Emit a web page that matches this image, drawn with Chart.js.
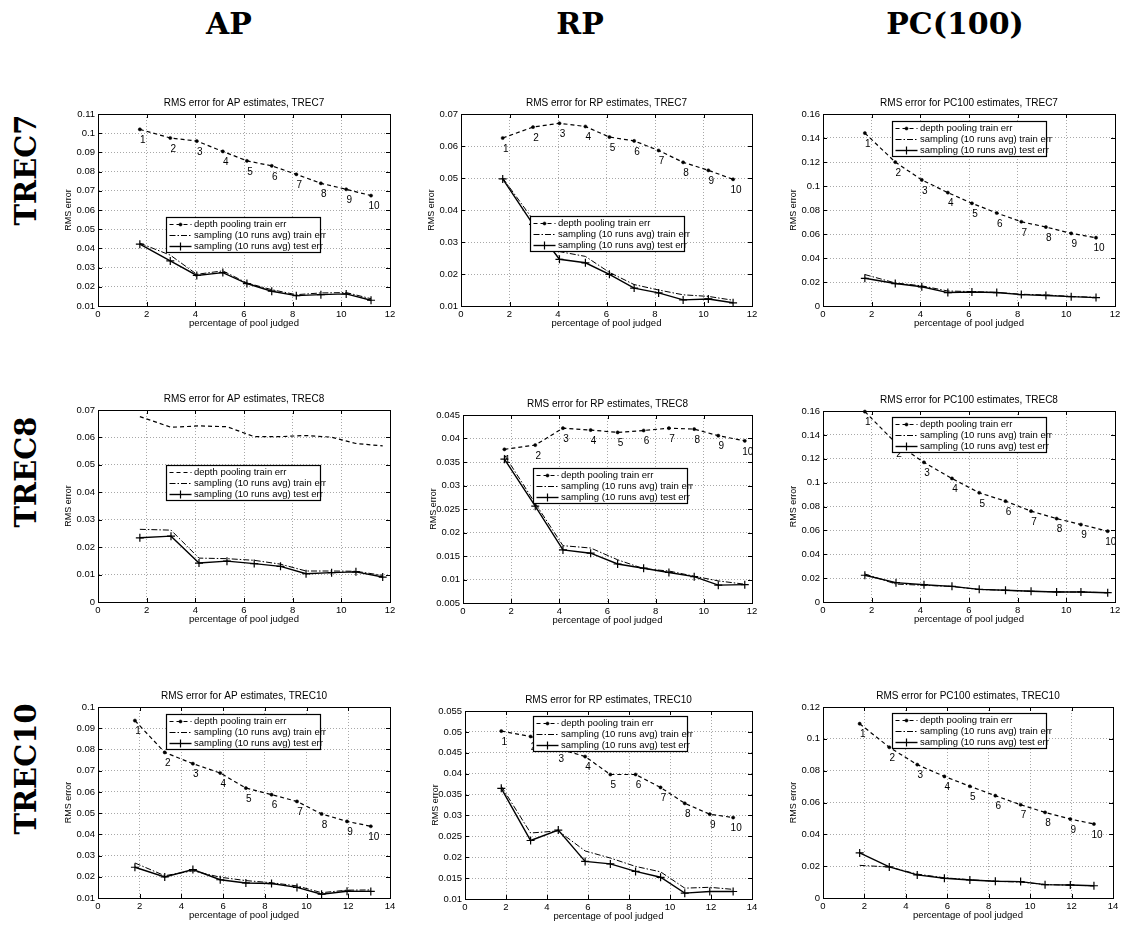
<!DOCTYPE html>
<html>
<head>
<meta charset="utf-8">
<script src="https://cdn.jsdelivr.net/npm/chart.js@4.4.1/dist/chart.umd.min.js"></script>
<style>
  body { margin: 0; background: #fff; }
  #page { position: relative; width: 1126px; height: 925px; overflow: hidden; background: #fff; }
  #page canvas { position: absolute; }
  .head { position: absolute; font: bold 30px "DejaVu Serif", serif; line-height: 30px; transform: translateX(-50%); white-space: nowrap; color: #000; }
  .side { position: absolute; font: bold 29px "DejaVu Serif", serif; line-height: 30px; white-space: nowrap; color: #000;
          transform: translate(-50%, -50%) rotate(-90deg); }
</style>
</head>
<body>
<div id="page">
  <div class="head" style="left:229px; top:9px">AP</div>
  <div class="head" style="left:580px; top:9px">RP</div>
  <div class="head" style="left:955px; top:9px">PC(100)</div>
  <div class="side" style="left:26px; top:170px">TREC7</div>
  <div class="side" style="left:26px; top:472px">TREC8</div>
  <div class="side" style="left:26px; top:769px">TREC10</div>
</div>
<script>
// ---- data ----
const seriesNames = ['depth pooling train err', 'sampling (10 runs avg) train err', 'sampling (10 runs avg) test err'];

const xTrec7  = [1.72, 2.97, 4.06, 5.13, 6.12, 7.14, 8.15, 9.16, 10.2, 11.22];
const xTrec8  = [1.72, 3.0, 4.15, 5.3, 6.42, 7.5, 8.55, 9.6, 10.6, 11.7];
const xTrec10 = [1.77, 3.2, 4.55, 5.86, 7.09, 8.32, 9.54, 10.72, 11.94, 13.08];

const apTrec7Depth = [0.1020, 0.0975, 0.0959, 0.0905, 0.0856, 0.0830, 0.0786, 0.0739, 0.0708, 0.0675];
const apTrec7Train = [0.0427, 0.0365, 0.0265, 0.0283, 0.0220, 0.0185, 0.0159, 0.0168, 0.0170, 0.0138];
const apTrec7Test  = [0.0422, 0.0335, 0.0259, 0.0274, 0.0217, 0.0177, 0.0154, 0.0159, 0.0163, 0.0130];

const rpTrec7Depth = [0.0625, 0.0659, 0.0671, 0.0661, 0.0628, 0.0616, 0.0586, 0.0549, 0.0524, 0.0496];
const rpTrec7Train = [0.0500, 0.0370, 0.0270, 0.0255, 0.0205, 0.0167, 0.0150, 0.0135, 0.0130, 0.0118];
const rpTrec7Test  = [0.0497, 0.0355, 0.0246, 0.0235, 0.0199, 0.0156, 0.0141, 0.0119, 0.0122, 0.0110];

const pcTrec7Depth = [0.1441, 0.1199, 0.1051, 0.0945, 0.0856, 0.0775, 0.0702, 0.0658, 0.0605, 0.0569];
const pcTrec7Train = [0.0262, 0.0192, 0.0168, 0.0125, 0.0120, 0.0113, 0.0098, 0.0092, 0.0080, 0.0072];
const pcTrec7Test  = [0.0231, 0.0187, 0.0160, 0.0112, 0.0117, 0.0112, 0.0095, 0.0088, 0.0078, 0.0070];

const apTrec8Depth = [0.0676, 0.0637, 0.0642, 0.0639, 0.0603, 0.0603, 0.0607, 0.0601, 0.0578, 0.0569];
const apTrec8Train = [0.0265, 0.0262, 0.0160, 0.0158, 0.0152, 0.0138, 0.0113, 0.0113, 0.0112, 0.0097];
const apTrec8Test  = [0.0234, 0.0240, 0.0142, 0.0149, 0.0140, 0.0130, 0.0103, 0.0107, 0.0110, 0.0091];

const rpTrec8Depth = [0.0377, 0.0386, 0.0422, 0.0418, 0.0413, 0.0417, 0.0422, 0.0420, 0.0406, 0.0395];
const rpTrec8Train = [0.0365, 0.0262, 0.0172, 0.0167, 0.0142, 0.0123, 0.0118, 0.0107, 0.0097, 0.0090];
const rpTrec8Test  = [0.0356, 0.0256, 0.0163, 0.0156, 0.0133, 0.0124, 0.0115, 0.0106, 0.0088, 0.0089];

const pcTrec8Depth = [0.1595, 0.1330, 0.1170, 0.1035, 0.0915, 0.0845, 0.0761, 0.0699, 0.0649, 0.0593];
const pcTrec8Train = [0.0235, 0.0150, 0.0140, 0.0130, 0.0105, 0.0098, 0.0090, 0.0085, 0.0083, 0.0078];
const pcTrec8Test  = [0.0224, 0.0162, 0.0145, 0.0131, 0.0106, 0.0098, 0.0090, 0.0084, 0.0084, 0.0078];

const apTrec10Depth = [0.0936, 0.0786, 0.0733, 0.0689, 0.0618, 0.0587, 0.0555, 0.0496, 0.0461, 0.0438];
const apTrec10Train = [0.0265, 0.0205, 0.0228, 0.0198, 0.0182, 0.0172, 0.0157, 0.0125, 0.0137, 0.0138];
const apTrec10Test  = [0.0245, 0.0199, 0.0234, 0.0186, 0.0171, 0.0168, 0.0150, 0.0118, 0.0132, 0.0131];

const rpTrec10Depth = [0.0502, 0.0489, 0.0460, 0.0441, 0.0398, 0.0398, 0.0367, 0.0329, 0.0303, 0.0295];
const rpTrec10Train = [0.0370, 0.0258, 0.0263, 0.0215, 0.0198, 0.0178, 0.0165, 0.0126, 0.0128, 0.0123];
const rpTrec10Test  = [0.0365, 0.0240, 0.0265, 0.0190, 0.0184, 0.0166, 0.0152, 0.0114, 0.0118, 0.0118];

const pcTrec10Depth = [0.1095, 0.0947, 0.0838, 0.0764, 0.0702, 0.0643, 0.0586, 0.0538, 0.0496, 0.0465];
const pcTrec10Train = [0.0205, 0.0195, 0.0150, 0.0127, 0.0115, 0.0105, 0.0100, 0.0085, 0.0080, 0.0077];
const pcTrec10Test  = [0.0283, 0.0195, 0.0145, 0.0124, 0.0113, 0.0105, 0.0103, 0.0084, 0.0082, 0.0077];

// tick labels
const xTicks12 = [0, 2, 4, 6, 8, 10, 12];
const xTicks14 = [0, 2, 4, 6, 8, 10, 12, 14];
const yTicksApTrec7  = [0.01, 0.02, 0.03, 0.04, 0.05, 0.06, 0.07, 0.08, 0.09, 0.1, 0.11];
const yTicksRpTrec7  = [0.01, 0.02, 0.03, 0.04, 0.05, 0.06, 0.07];
const yTicksPcTrec7  = [0, 0.02, 0.04, 0.06, 0.08, 0.1, 0.12, 0.14, 0.16];
const yTicksApTrec8  = [0, 0.01, 0.02, 0.03, 0.04, 0.05, 0.06, 0.07];
const yTicksRpTrec8  = [0.005, 0.01, 0.015, 0.02, 0.025, 0.03, 0.035, 0.04, 0.045];
const yTicksPcTrec8  = [0, 0.02, 0.04, 0.06, 0.08, 0.1, 0.12, 0.14, 0.16];
const yTicksApTrec10 = [0.01, 0.02, 0.03, 0.04, 0.05, 0.06, 0.07, 0.08, 0.09, 0.1];
const yTicksRpTrec10 = [0.01, 0.015, 0.02, 0.025, 0.03, 0.035, 0.04, 0.045, 0.05, 0.055];
const yTicksPcTrec10 = [0, 0.02, 0.04, 0.06, 0.08, 0.1, 0.12];

// ---- layout: plot box [left, top, right, bottom] and legend offset inside it ----
const panels = [
  { title: 'RMS error for AP estimates, TREC7',     x: xTrec7,  d: apTrec7Depth,  s: apTrec7Train,  t: apTrec7Test,  yt: yTicksApTrec7,  xt: xTicks12, box: [98, 114, 390, 306],  leg: [68, 103], dots: true },
  { title: 'RMS error for RP estimates, TREC7',     x: xTrec7,  d: rpTrec7Depth,  s: rpTrec7Train,  t: rpTrec7Test,  yt: yTicksRpTrec7,  xt: xTicks12, box: [461, 114, 752, 306], leg: [69, 102], dots: true },
  { title: 'RMS error for PC100 estimates, TREC7',  x: xTrec7,  d: pcTrec7Depth,  s: pcTrec7Train,  t: pcTrec7Test,  yt: yTicksPcTrec7,  xt: xTicks12, box: [823, 114, 1115, 306], leg: [69, 7], dots: true },
  { title: 'RMS error for AP estimates, TREC8',     x: xTrec8,  d: apTrec8Depth,  s: apTrec8Train,  t: apTrec8Test,  yt: yTicksApTrec8,  xt: xTicks12, box: [98, 410, 390, 602],  leg: [68, 55], dots: false },
  { title: 'RMS error for RP estimates, TREC8',     x: xTrec8,  d: rpTrec8Depth,  s: rpTrec8Train,  t: rpTrec8Test,  yt: yTicksRpTrec8,  xt: xTicks12, box: [463, 415, 752, 603], leg: [70, 53], dots: true },
  { title: 'RMS error for PC100 estimates, TREC8',  x: xTrec8,  d: pcTrec8Depth,  s: pcTrec8Train,  t: pcTrec8Test,  yt: yTicksPcTrec8,  xt: xTicks12, box: [823, 411, 1115, 602], leg: [69, 6], dots: true },
  { title: 'RMS error for AP estimates, TREC10',    x: xTrec10, d: apTrec10Depth, s: apTrec10Train, t: apTrec10Test, yt: yTicksApTrec10, xt: xTicks14, box: [98, 707, 390, 898],  leg: [68, 7], dots: true },
  { title: 'RMS error for RP estimates, TREC10',    x: xTrec10, d: rpTrec10Depth, s: rpTrec10Train, t: rpTrec10Test, yt: yTicksRpTrec10, xt: xTicks14, box: [465, 711, 752, 899], leg: [68, 5], dots: true },
  { title: 'RMS error for PC100 estimates, TREC10', x: xTrec10, d: pcTrec10Depth, s: pcTrec10Train, t: pcTrec10Test, yt: yTicksPcTrec10, xt: xTicks14, box: [823, 707, 1113, 898], leg: [69, 6], dots: true }
];

const FONT = '"Liberation Sans", Arial, Helvetica, sans-serif';
Chart.defaults.font.family = FONT;
Chart.defaults.color = '#000';

const PAD_L = 45, PAD_T = 22, PAD_R = 12, PAD_B = 24;

// black box round the axes with inward ticks, matlab style
const framePlugin = {
  id: 'frame',
  afterDatasetsDraw(chart) {
    const { ctx, chartArea: a, scales } = chart;
    ctx.save();
    ctx.setLineDash([]);
    ctx.strokeStyle = '#000';
    ctx.lineWidth = 1;
    ctx.strokeRect(Math.round(a.left) + 0.5, Math.round(a.top) + 0.5,
                   Math.round(a.right - a.left), Math.round(a.bottom - a.top));
    ctx.beginPath();
    scales.x.ticks.forEach(tk => {
      const px = Math.round(scales.x.getPixelForValue(tk.value)) + 0.5;
      ctx.moveTo(px, a.bottom); ctx.lineTo(px, a.bottom - 4);
      ctx.moveTo(px, a.top); ctx.lineTo(px, a.top + 4);
    });
    scales.y.ticks.forEach(tk => {
      const py = Math.round(scales.y.getPixelForValue(tk.value)) + 0.5;
      ctx.moveTo(a.left, py); ctx.lineTo(a.left + 4, py);
      ctx.moveTo(a.right, py); ctx.lineTo(a.right - 4, py);
    });
    ctx.stroke();
    ctx.restore();
  }
};

// numbers 1..10 next to the depth pooling points
const depthLabels = {
  id: 'depthLabels',
  afterDatasetsDraw(chart, args, opts) {
    if (!opts.show) return;
    const ctx = chart.ctx;
    const meta = chart.getDatasetMeta(0);
    ctx.save();
    ctx.fillStyle = '#000';
    ctx.font = '10px ' + FONT;
    ctx.textAlign = 'center';
    ctx.textBaseline = 'middle';
    meta.data.forEach((pt, i) => {
      ctx.fillText(String(i + 1), pt.x + 3, pt.y + 11);
    });
    ctx.restore();
  }
};

// legend box placed inside the plot area
const boxLegend = {
  id: 'boxLegend',
  afterDraw(chart, args, opts) {
    const ctx = chart.ctx, a = chart.chartArea;
    const x0 = Math.round(a.left + opts.dx) + 0.5, y0 = Math.round(a.top + opts.dy) + 0.5;
    const w = 154, h = 35;
    ctx.save();
    ctx.fillStyle = '#fff';
    ctx.fillRect(x0, y0, w, h);
    ctx.setLineDash([]);
    ctx.strokeStyle = '#000';
    ctx.lineWidth = 1.2;
    ctx.strokeRect(x0, y0, w, h);
    chart.data.datasets.forEach((ds, i) => {
      const cy = Math.round(y0 + 6.5 + i * 11) + 0.5;
      ctx.beginPath();
      ctx.setLineDash(ds.borderDash || []);
      ctx.lineWidth = ds.borderWidth;
      ctx.moveTo(x0 + 3, cy);
      ctx.lineTo(x0 + 25, cy);
      ctx.stroke();
      ctx.setLineDash([]);
      if (ds.pointRadius > 0) {
        ctx.fillStyle = '#000';
        ctx.lineWidth = ds.pointBorderWidth;
        Chart.helpers.drawPoint(ctx, { pointStyle: ds.pointStyle, radius: ds.pointRadius, borderWidth: ds.pointBorderWidth, rotation: 0 }, x0 + 14, cy);
      }
      ctx.fillStyle = '#000';
      ctx.font = '9.5px ' + FONT;
      ctx.textAlign = 'left';
      ctx.textBaseline = 'middle';
      ctx.fillText(ds.label, x0 + 27.5, cy);
    });
    ctx.restore();
  }
};

function pts(xs, ys) {
  return xs.map((x, i) => ({ x: x, y: ys[i] }));
}

function makePanel(p) {
  const [l, t, r, b] = p.box;
  const cv = document.createElement('canvas');
  cv.width = (r - l) + PAD_L + PAD_R;
  cv.height = (b - t) + PAD_T + PAD_B;
  cv.style.left = (l - PAD_L) + 'px';
  cv.style.top = (t - PAD_T) + 'px';
  document.getElementById('page').appendChild(cv);

  const gridOpts = { color: '#a8a8a8', lineWidth: 1, drawTicks: false, borderDash: [1, 2] };
  const borderOpts = { display: true, color: '#000', dash: [1, 2] };

  new Chart(cv, {
    type: 'line',
    data: {
      datasets: [
        { label: seriesNames[0], data: pts(p.x, p.d), borderColor: '#000', backgroundColor: '#000',
          borderWidth: 1.2, borderDash: [4, 3], pointStyle: 'circle', pointRadius: p.dots ? 1.6 : 0,
          pointBorderWidth: 0.5, pointBackgroundColor: '#000', pointBorderColor: '#000', tension: 0, clip: 8 },
        { label: seriesNames[1], data: pts(p.x, p.s), borderColor: '#000', backgroundColor: '#000',
          borderWidth: 1, borderDash: [6, 2, 1.5, 2], pointRadius: 0, pointBorderWidth: 0, tension: 0, clip: 8 },
        { label: seriesNames[2], data: pts(p.x, p.t), borderColor: '#000', backgroundColor: '#000',
          borderWidth: 1.4, borderDash: [], pointStyle: 'cross', pointRadius: 4, pointBorderWidth: 1.2,
          pointBorderColor: '#000', tension: 0, clip: 8 }
      ]
    },
    options: {
      responsive: false,
      animation: false,
      devicePixelRatio: 1,
      layout: { padding: { left: 10, top: 1, right: PAD_R, bottom: 0 } },
      plugins: {
        legend: { display: false },
        tooltip: { enabled: false },
        title: { display: true, text: p.title, fullSize: false, color: '#000',
                 font: { size: 10, weight: 'normal' }, padding: { top: 4, bottom: 5 } },
        depthLabels: { show: p.dots },
        boxLegend: { dx: p.leg[0], dy: p.leg[1] }
      },
      scales: {
        x: {
          type: 'linear',
          min: p.xt[0], max: p.xt[p.xt.length - 1],
          afterBuildTicks: s => { s.ticks = p.xt.map(v => ({ value: v })); },
          afterFit: s => { s.height = PAD_B; },
          grid: gridOpts,
          border: borderOpts,
          ticks: { font: { size: 9.5 }, padding: 3, maxRotation: 0, autoSkip: false, color: '#000',
                   callback: v => String(+v.toFixed(4)) },
          title: { display: true, text: 'percentage of pool judged', font: { size: 9.5 }, color: '#000',
                   padding: { top: 0, bottom: 1 } }
        },
        y: {
          type: 'linear',
          min: p.yt[0], max: p.yt[p.yt.length - 1],
          afterBuildTicks: s => { s.ticks = p.yt.map(v => ({ value: v })); },
          afterFit: s => { s.width = PAD_L - 10; },
          grid: gridOpts,
          border: borderOpts,
          ticks: { font: { size: 9.5 }, padding: 3, autoSkip: false, color: '#000',
                   callback: v => String(+v.toFixed(4)) },
          title: { display: true, text: 'RMS error', font: { size: 9 }, color: '#000',
                   padding: { top: 0, bottom: 0 } }
        }
      }
    },
    plugins: [framePlugin, depthLabels, boxLegend]
  });
}

panels.forEach(makePanel);
</script>
</body>
</html>
